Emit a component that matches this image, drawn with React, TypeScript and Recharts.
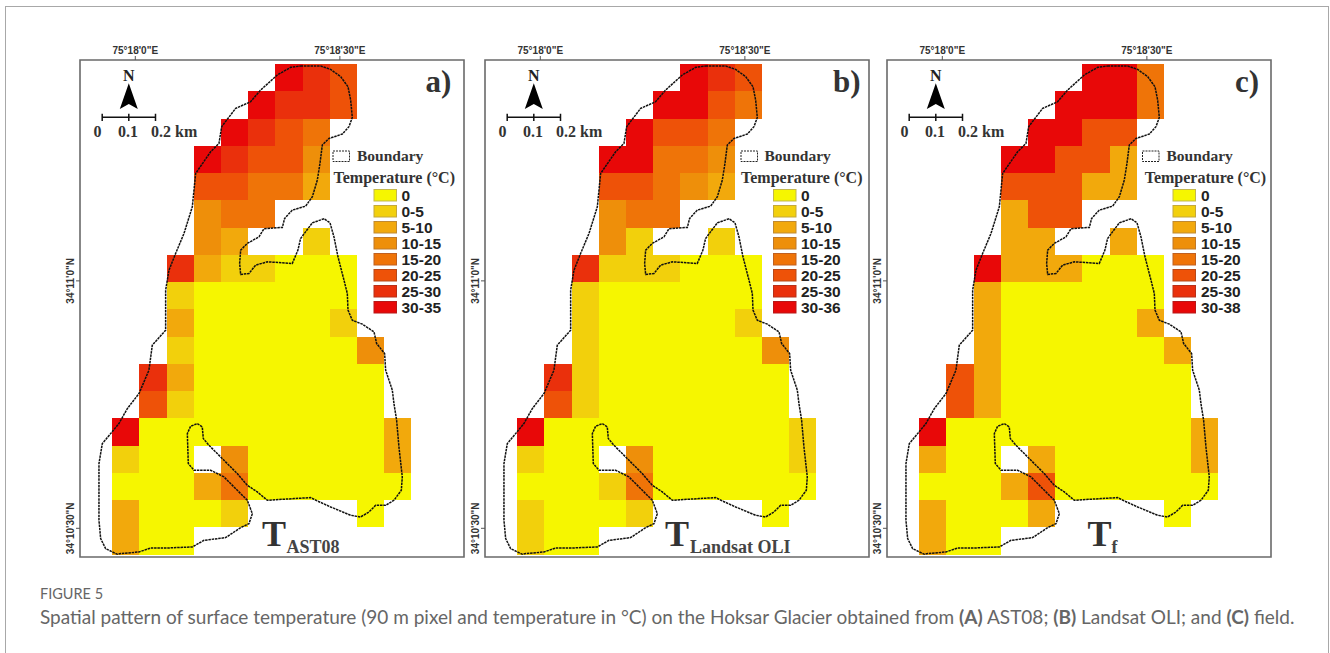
import React from "react";
import {
  ScatterChart,
  Scatter,
  XAxis,
  YAxis,
  ReferenceArea,
} from "recharts";

// arc-seconds after 75°18'0"E and after 34°10'30"N
const lonTicks = [0, 30];
const lonTickLabels = ["75°18'0\"E", "75°18'30\"E"];
const latTicks = [0, 30];
const latTickLabels = ["34°10'30\"N", "34°11'0\"N"];

const boundaryLon = [
  24.24, 27.18, 28.64, 30.11, 31.19, 31.58, 31.82, 31.33, 30.35, 28.4, 27.42, 27.08, 26.69, 25.96, 24.98,
  23.02, 21.9, 21.56, 18.87, 18.13, 16.42, 15.45, 15.3, 15.45, 16.67, 17.65, 19.36, 23.02, 23.85, 24.24,
  25.96, 27.67, 28.55, 29.13, 29.72, 30.6, 31.09, 31.19, 31.82, 33.29, 35.0, 35.39, 36.56, 36.71, 37.69,
  37.93, 38.32, 38.66, 39.15, 39.01, 37.93, 36.71, 35.24, 34.26, 33.04, 31.58, 28.64, 26.69, 25.71, 23.27,
  19.36, 17.89, 16.42, 14.96, 13.0, 10.8, 9.97, 9.82, 9.09, 8.11, 7.63, 7.77, 8.6, 11.05, 13.0,
  14.47, 16.42, 17.16, 16.67, 15.45, 13.25, 10.07, 8.36, 4.69, 2.25, 0.54, -2.15, -2.64, -4.35, -5.08,
  -5.33, -5.33, -4.84, -3.62, -2.4, -1.17, 0.54, 2.0, 2.49, 4.45, 4.45, 4.45, 4.94, 5.91, 7.14,
  8.36, 8.85, 11.05, 12.27, 12.66, 14.71, 16.91, 18.38, 20.82, 22.78, 24.24,
];
const boundaryLat = [
  56.05, 56.05, 55.64, 54.76, 53.54, 51.92, 49.82, 48.69, 47.8, 47.27, 46.47, 44.24, 42.22, 40.2, 39.06,
  38.58, 37.57, 36.48, 36.32, 35.34, 34.54, 33.73, 32.11, 30.77, 30.9, 31.91, 32.31, 32.11, 33.73, 35.14,
  37.04, 37.53, 37.04, 35.34, 32.92, 30.09, 28.47, 26.45, 25.23, 24.75, 23.82, 22.4, 21.19, 19.17, 16.74,
  15.12, 13.1, 9.87, 6.23, 4.61, 3.4, 2.79, 2.79, 1.98, 1.37, 1.58, 2.59, 3.32, 3.72, 3.6,
  3.4, 4.41, 5.22, 6.63, 8.25, 10.07, 10.88, 12.29, 12.7, 12.37, 11.48, 7.85, 7.04, 7.04, 6.23,
  5.01, 3.4, 1.78, 0.57, 0.08, -1.13, -1.46, -2.26, -2.39, -2.39, -2.87, -3.07, -3.15, -2.47, -1.25,
  0.97, 7.85, 10.27, 11.48, 12.7, 14.52, 16.34, 19.17, 22.2, 24.02, 27.26, 28.87, 31.3, 33.32, 35.75,
  38.98, 43.03, 45.66, 46.67, 48.69, 50.91, 51.72, 53.14, 54.96, 55.89, 56.05,
];

// temperature class per 90 m pixel, north to south, west to east; -1 = no data
const classesAst08 = [
  [-1, -1, -1, -1, -1, -1, 7, 6, 5, -1, -1],
  [-1, -1, -1, -1, -1, 7, 6, 6, 5, -1, -1],
  [-1, -1, -1, -1, 7, 6, 5, 4, -1, -1, -1],
  [-1, -1, -1, 7, 6, 5, 5, 3, -1, -1, -1],
  [-1, -1, -1, 5, 5, 4, 4, 2, -1, -1, -1],
  [-1, -1, -1, 3, 4, 4, -1, -1, -1, -1, -1],
  [-1, -1, -1, 3, 2, -1, -1, 1, -1, -1, -1],
  [-1, -1, 6, 2, 1, 1, 0, 0, 0, -1, -1],
  [-1, -1, 1, 0, 0, 0, 0, 0, 0, -1, -1],
  [-1, -1, 2, 0, 0, 0, 0, 0, 1, -1, -1],
  [-1, -1, 1, 0, 0, 0, 0, 0, 0, 3, -1],
  [-1, 6, 2, 0, 0, 0, 0, 0, 0, 0, -1],
  [-1, 5, 1, 0, 0, 0, 0, 0, 0, 0, -1],
  [7, 0, 0, 0, 0, 0, 0, 0, 0, 0, 2],
  [1, 0, 0, -1, 3, 0, 0, 0, 0, 0, 2],
  [0, 0, 0, 2, 4, 0, 0, 0, 0, 0, 0],
  [2, 0, 0, 0, 1, -1, -1, -1, -1, 0, -1],
  [2, 0, 0, -1, -1, -1, -1, -1, -1, -1, -1],
];
const classesLandsat = [
  [-1, -1, -1, -1, -1, -1, 7, 6, 5, -1, -1],
  [-1, -1, -1, -1, -1, 7, 7, 5, 4, -1, -1],
  [-1, -1, -1, -1, 7, 5, 5, 4, -1, -1, -1],
  [-1, -1, -1, 7, 7, 4, 4, 3, -1, -1, -1],
  [-1, -1, -1, 5, 5, 4, 3, 2, -1, -1, -1],
  [-1, -1, -1, 3, 4, 4, -1, -1, -1, -1, -1],
  [-1, -1, -1, 3, 1, -1, -1, 1, -1, -1, -1],
  [-1, -1, 6, 1, 1, 1, 0, 0, 0, -1, -1],
  [-1, -1, 1, 0, 0, 0, 0, 0, 0, -1, -1],
  [-1, -1, 1, 0, 0, 0, 0, 0, 1, -1, -1],
  [-1, -1, 1, 0, 0, 0, 0, 0, 0, 3, -1],
  [-1, 6, 1, 0, 0, 0, 0, 0, 0, 0, -1],
  [-1, 5, 1, 0, 0, 0, 0, 0, 0, 0, -1],
  [7, 0, 0, 0, 0, 0, 0, 0, 0, 0, 1],
  [1, 0, 0, -1, 3, 0, 0, 0, 0, 0, 1],
  [0, 0, 0, 1, 4, 0, 0, 0, 0, 0, 0],
  [1, 0, 0, 0, 1, -1, -1, -1, -1, 0, -1],
  [1, 0, 0, -1, -1, -1, -1, -1, -1, -1, -1],
];
const classesField = [
  [-1, -1, -1, -1, -1, -1, 7, 7, 4, -1, -1],
  [-1, -1, -1, -1, -1, 7, 7, 7, 4, -1, -1],
  [-1, -1, -1, -1, 7, 7, 5, 5, -1, -1, -1],
  [-1, -1, -1, 7, 7, 5, 5, 2, -1, -1, -1],
  [-1, -1, -1, 5, 5, 5, 2, 2, -1, -1, -1],
  [-1, -1, -1, 2, 5, 5, -1, -1, -1, -1, -1],
  [-1, -1, -1, 2, 2, -1, -1, 2, -1, -1, -1],
  [-1, -1, 7, 2, 2, 2, 0, 0, 0, -1, -1],
  [-1, -1, 2, 0, 0, 0, 0, 0, 0, -1, -1],
  [-1, -1, 2, 0, 0, 0, 0, 0, 2, -1, -1],
  [-1, -1, 2, 0, 0, 0, 0, 0, 0, 2, -1],
  [-1, 5, 2, 0, 0, 0, 0, 0, 0, 0, -1],
  [-1, 5, 2, 0, 0, 0, 0, 0, 0, 0, -1],
  [7, 0, 0, 0, 0, 0, 0, 0, 0, 0, 2],
  [2, 0, 0, -1, 2, 0, 0, 0, 0, 0, 2],
  [0, 0, 0, 2, 5, 0, 0, 0, 0, 0, 0],
  [2, 0, 0, 0, 2, -1, -1, -1, -1, 0, -1],
  [2, 0, 0, -1, -1, -1, -1, -1, -1, -1, -1],
];

const CLASS_COLORS = ["#f6f600", "#f2d00c", "#f2a90c", "#ee8f0a", "#ef7408", "#ee5208", "#ea300c", "#e80808"];
const CLASS_BORDERS = ["#c4b84a", "#c4a83a", "#c08a30", "#c07828", "#c06020", "#b84818", "#b83018", "#b81818"];
const baseLabels = ["0", "0-5", "5-10", "10-15", "15-20", "20-25", "25-30"];

// grid geometry, arc-seconds
const GRID_WEST = -3.37;
const GRID_NORTH = 56.29;
const CELL_LON = 3.984;
const CELL_LAT = 3.304;
const LON_DOMAIN: [number, number] = [-8.11, 48.2];
const LAT_DOMAIN: [number, number] = [-3.48, 56.78];

const PLOT_W = 384;
const PLOT_H = 497;
const SERIF = "'Liberation Serif', serif";
const SANS = "'Liberation Sans', sans-serif";

const boundaryData = boundaryLon.map((lon, i) => ({ lon, lat: boundaryLat[i] }));

function toCells(classes: number[][]) {
  const out: { lon: number; lat: number; cls: number }[] = [];
  classes.forEach((row, r) =>
    row.forEach((cls, c) => {
      if (cls >= 0) {
        out.push({
          lon: GRID_WEST + (c + 0.5) * CELL_LON,
          lat: GRID_NORTH - (r + 0.5) * CELL_LAT,
          cls,
        });
      }
    })
  );
  return out;
}

function CellShape(props: any) {
  const w = (CELL_LON / (LON_DOMAIN[1] - LON_DOMAIN[0])) * PLOT_W;
  const h = (CELL_LAT / (LAT_DOMAIN[1] - LAT_DOMAIN[0])) * PLOT_H;
  // snap to whole pixels so neighbouring cells have no seam
  const x0 = Math.round(props.cx - w / 2);
  const x1 = Math.round(props.cx + w / 2);
  const y0 = Math.round(props.cy - h / 2);
  const y1 = Math.round(props.cy + h / 2);
  return (
    <rect
      x={x0}
      y={y0}
      width={x1 - x0}
      height={y1 - y0}
      fill={CLASS_COLORS[props.payload.cls]}
      shapeRendering="crispEdges"
    />
  );
}

function LatTick({ x, y, payload }: any) {
  return (
    <text
      x={x}
      y={y}
      transform={`rotate(-90 ${x} ${y})`}
      textAnchor="middle"
      fontFamily={SANS}
      fontWeight="bold"
      fontSize={10}
      fill="#333"
    >
      {latTickLabels[latTicks.indexOf(payload.value)]}
    </text>
  );
}

function Annotations({ letter }: { letter: string }) {
  return (
    <svg width={PLOT_W} height={PLOT_H} style={{ position: "absolute", left: 0, top: 0 }}>
      <text x={48.8} y={21} textAnchor="middle" fontFamily={SERIF} fontWeight="bold" fontSize={16} fill="#222">N</text>
      <polygon points="48.8,23.3 39.8,49 48.8,44 57.8,49" fill="#000" />
      <path d="M22.2 57.3H75.5M22.2 53.7V61M48.8 53.7V61M75.5 53.7V61" stroke="#111" strokeWidth={1.5} fill="none" />
      <g fontFamily={SERIF} fontWeight="bold" fontSize={16} fill="#333">
        <text x={13.5} y={76.5}>0</text>
        <text x={38} y={76.5}>0.1</text>
        <text x={71} y={76.5}>0.2 km</text>
      </g>
      <text x={letter === "a)" ? 345.5 : 348} y={31.7} fontFamily={SERIF} fontWeight="bold" fontSize={31} fill="#333">{letter}</text>
    </svg>
  );
}

function MapLegend({ lastLabel, swatchX, labelX, boxX, boundaryX, titleX }: any) {
  const labels = [...baseLabels, lastLabel];
  return (
    <svg width={PLOT_W} height={PLOT_H} style={{ position: "absolute", left: 0, top: 0 }}>
      <rect x={boxX} y={91} width={16.5} height={10.5} fill="#fff" stroke="#222" strokeWidth={1} strokeDasharray="2 1" />
      <text x={boundaryX} y={101} fontFamily={SERIF} fontWeight="bold" fontSize={15.5} fill="#333">Boundary</text>
      <text x={titleX} y={123} fontFamily={SERIF} fontWeight="bold" fontSize={16} fill="#333">Temperature (°C)</text>
      {labels.map((label, i) => (
        <g key={label}>
          <rect x={swatchX} y={129.5 + i * 16} width={22.5} height={11.5} fill={CLASS_COLORS[i]} stroke={CLASS_BORDERS[i]} strokeWidth={1} />
          <text x={labelX} y={141 + i * 16} fontFamily={SANS} fontWeight="bold" fontSize={15.5} fill="#222">{label}</text>
        </g>
      ))}
    </svg>
  );
}

function Panel({ left, classes, letter, lastLabel, sub, tX, subX, subDy, legend }: any) {
  const cells = toCells(classes);
  return (
    <div style={{ position: "absolute", left: left - 40, top: 30, width: PLOT_W + 50, height: PLOT_H + 40 }}>
      <ScatterChart width={PLOT_W + 50} height={PLOT_H + 40} margin={{ top: 0, right: 10, bottom: 10, left: 0 }}>
        <XAxis
          xAxisId="lon"
          dataKey="lon"
          type="number"
          orientation="top"
          height={30}
          domain={LON_DOMAIN}
          ticks={lonTicks}
          allowDataOverflow
          axisLine={false}
          tickSize={4}
          tickLine={{ stroke: "#555" }}
          tick={{ fontFamily: SANS, fontWeight: "bold", fontSize: 10, fill: "#333" }}
          tickFormatter={(v: number) => lonTickLabels[lonTicks.indexOf(v)]}
        />
        <YAxis
          yAxisId="lat"
          dataKey="lat"
          type="number"
          width={40}
          domain={LAT_DOMAIN}
          ticks={latTicks}
          allowDataOverflow
          axisLine={false}
          tickSize={4}
          tickLine={{ stroke: "#555" }}
          tick={<LatTick />}
        />
        <Scatter
          xAxisId="lon"
          yAxisId="lat"
          data={cells}
          shape={<CellShape />}
          isAnimationActive={false}
        />
        <Scatter
          xAxisId="lon"
          yAxisId="lat"
          data={boundaryData}
          shape={() => <g />}
          line={{ stroke: "#111", strokeWidth: 1.5, strokeDasharray: "2.5 0.8" }}
          isAnimationActive={false}
        />
        <ReferenceArea
          xAxisId="lon"
          yAxisId="lat"
          x1={LON_DOMAIN[0]}
          x2={LON_DOMAIN[1]}
          y1={LAT_DOMAIN[0]}
          y2={LAT_DOMAIN[1]}
          fill="none"
          stroke="#6a6a6a"
          strokeWidth={1.6}
        />
      </ScatterChart>
      <div style={{ position: "absolute", left: 40, top: 30, width: PLOT_W, height: PLOT_H }}>
        <Annotations letter={letter} />
        <MapLegend lastLabel={lastLabel} {...legend} />
        <svg width={PLOT_W} height={PLOT_H} style={{ position: "absolute", left: 0, top: 0 }}>
          <text x={tX} y={486} fontFamily={SERIF} fontWeight="bold" fontSize={36} fill="#333">T</text>
          <text x={subX} y={486 + subDy} fontFamily={SERIF} fontWeight="bold" fontSize={18} fill="#444">{sub}</text>
        </svg>
      </div>
    </div>
  );
}

export default function App() {
  return (
    <div style={{ position: "absolute", left: 0, top: 0, width: 1330, height: 653, background: "#fff", overflow: "hidden" }}>
      <div style={{ position: "absolute", left: 5, top: 6, width: 1322, height: 700, border: "1.5px solid #a8a8a8" }} />
      <Panel
        left={79.5}
        classes={classesAst08}
        letter="a)"
        lastLabel="30-35"
        sub="AST08"
        tX={182}
        subX={206.5}
        subDy={7}
        legend={{ boxX: 253, boundaryX: 277, titleX: 253.5, swatchX: 294, labelX: 321.5 }}
      />
      <Panel
        left={485}
        classes={classesLandsat}
        letter="b)"
        lastLabel="30-36"
        sub="Landsat OLI"
        tX={180}
        subX={205}
        subDy={6.5}
        legend={{ boxX: 256, boundaryX: 279.5, titleX: 256, swatchX: 288.5, labelX: 316 }}
      />
      <Panel
        left={887.3}
        classes={classesField}
        letter="c)"
        lastLabel="30-38"
        sub="f"
        tX={200.5}
        subX={224.5}
        subDy={7}
        legend={{ boxX: 255.5, boundaryX: 279.5, titleX: 257.7, swatchX: 286, labelX: 314 }}
      />
      <div style={{ position: "absolute", left: 40, top: 585, fontFamily: "Lato", fontSize: 14.5, color: "#666" }}>FIGURE 5</div>
      <div style={{ position: "absolute", left: 40, top: 605, fontFamily: "Lato", fontSize: 19, color: "#666", whiteSpace: "nowrap" }}>
        Spatial pattern of surface temperature (90 m pixel and temperature in °C) on the Hoksar Glacier obtained from <b>(A)</b> AST08; <b>(B)</b> Landsat OLI; and <b>(C)</b> field.
      </div>
    </div>
  );
}
